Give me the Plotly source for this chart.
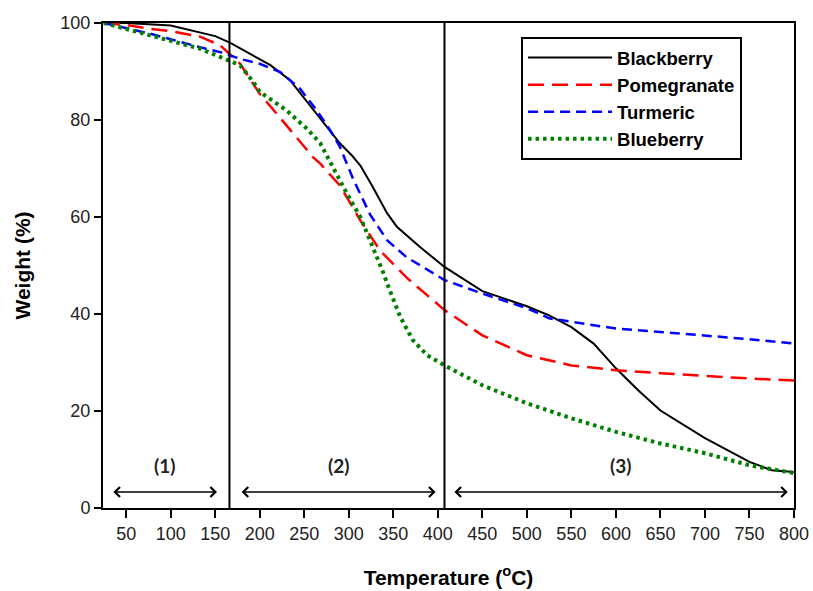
import plotly.graph_objects as go

# ---- data ----
temp_blackberry = [25, 50, 100, 133, 150, 167, 212, 234, 249, 268, 290, 303, 313, 327, 343, 354, 380, 407.5,
                   450, 500, 525, 550, 575, 600, 625, 650, 700, 750, 775, 800]
w_blackberry = [100, 100, 99.5, 98.1, 97.3, 95.9, 91.3, 88.2, 84.7, 80.3, 75.2, 72.8, 70.6, 66.2, 60.8, 58.0, 53.8, 49.7,
                44.7, 41.6, 39.7, 37.3, 33.9, 28.8, 24.3, 20.1, 14.4, 9.5, 7.8, 7.4]

temp_pomegranate = [25, 50, 77, 100, 133, 155.5, 178, 193, 200, 219, 238, 260, 268, 290, 313, 335, 365, 407.5,
                    450, 500, 550, 600, 650, 700, 750, 800]
w_pomegranate = [100, 99.6, 98.8, 98.3, 97.2, 95.4, 91.6, 87.5, 85.4, 81.3, 77.2, 72.3, 71.0, 66.5, 59.3, 53.1, 47.5, 40.8,
                 35.6, 31.5, 29.4, 28.4, 27.8, 27.2, 26.7, 26.3]

temp_turmeric = [25, 50, 77, 133, 155.5, 178, 200, 223, 245, 264, 279, 290, 305, 324, 343, 365, 407.5,
                 450, 500, 525, 550, 600, 650, 700, 750, 800]
w_turmeric = [100, 99.0, 97.8, 95.0, 94.0, 92.6, 91.6, 89.9, 86.5, 82.0, 77.9, 74.5, 67.8, 60.5, 55.2, 51.7, 47.0,
              44.2, 41.2, 39.1, 38.4, 37.0, 36.3, 35.6, 34.8, 33.9]

temp_blueberry = [25, 50, 77, 133, 155.5, 178, 193, 200, 230, 253, 268, 282, 298, 313, 324, 339, 343, 357.6, 372, 388, 407.5,
                  450, 500, 550, 600, 650, 700, 750, 800]
w_blueberry = [100, 98.8, 97.5, 94.7, 93.0, 91.3, 87.8, 85.8, 82.0, 78.2, 75.2, 70.3, 64.8, 60.0, 55.2, 48.4, 46.3, 39.5, 34.6, 31.5, 29.4,
               25.3, 21.6, 18.5, 15.7, 13.3, 11.3, 8.8, 7.2]

stage_bounds = [166, 407.5]
stage_labels = ["(1)", "(2)", "(3)"]
stage_label_x = [92.7, 289, 605]
stage_arrow_start = [34, 178, 417]
stage_arrow_end = [152, 397.5, 793]
arrow_level = 3.3
label_level = 8.8

x_ticks = list(range(50, 801, 50))
y_ticks = [0, 20, 40, 60, 80, 100]

# ---- figure ----
fig = go.Figure()
fig.add_trace(go.Scatter(x=temp_blackberry, y=w_blackberry, mode="lines", name="Blackberry",
                         line=dict(color="black", width=2)))
fig.add_trace(go.Scatter(x=temp_pomegranate, y=w_pomegranate, mode="lines", name="Pomegranate",
                         line=dict(color="#ff0000", width=2.5, dash="16px,8px")))
fig.add_trace(go.Scatter(x=temp_turmeric, y=w_turmeric, mode="lines", name="Turmeric",
                         line=dict(color="#0000ff", width=2.5, dash="10px,6px")))
fig.add_trace(go.Scatter(x=temp_blueberry, y=w_blueberry, mode="lines", name="Blueberry",
                         line=dict(color="#008000", width=4, dash="3.5px,4px")))

for b in stage_bounds:
    fig.add_vline(x=b, line=dict(color="black", width=2))

for lab, lx, a0, a1 in zip(stage_labels, stage_label_x, stage_arrow_start, stage_arrow_end):
    fig.add_annotation(x=a1, y=arrow_level, ax=a0, ay=arrow_level, xref="x", yref="y",
                       axref="x", ayref="y", showarrow=True, arrowhead=4, startarrowhead=4,
                       arrowside="end+start", arrowsize=1.3, startarrowsize=1.3, arrowwidth=1.5,
                       arrowcolor="black", text="")
    fig.add_annotation(x=lx, y=label_level, xref="x", yref="y", text="<b>" + lab + "</b>",
                       showarrow=False, font=dict(family="Lato, Arial", size=19, color="#222"))

fig.update_layout(
    width=813, height=591,
    margin=dict(l=103, r=19, t=23, b=83),
    paper_bgcolor="white", plot_bgcolor="white",
    font=dict(family="Arial, Liberation Sans", color="#222"),
    showlegend=True,
    legend=dict(x=0.605, y=0.971, xanchor="left", yanchor="top",
                bordercolor="black", borderwidth=2, bgcolor="white",
                font=dict(family="Arial, Liberation Sans", size=18.5, color="black", weight="bold"),
                itemwidth=84, tracegroupgap=0, entrywidth=156, entrywidthmode="pixels"),
    xaxis=dict(range=[24, 800], tickvals=x_ticks, ticks="outside", ticklen=8, tickwidth=1.5,
               tickcolor="black", showline=True, linecolor="black", linewidth=2, mirror=True,
               showgrid=False, zeroline=False, tickfont=dict(size=18, color="#222"), automargin=False,
               title=dict(text="<b>Temperature (<sup>o</sup>C)</b>", font=dict(size=21, color="black"),
                          standoff=28)),
    yaxis=dict(range=[0, 100], tickvals=y_ticks, ticks="outside", ticklen=7, tickwidth=1.5,
               tickcolor="black", showline=True, linecolor="black", linewidth=2, mirror=True,
               showgrid=False, zeroline=False, tickfont=dict(size=18, color="#222"), automargin=False,
               title=dict(text="<b>Weight (%)</b>", font=dict(size=21, color="black"), standoff=24)),
)

# remove the default page margin so the 813x591 figure fills the window exactly
fig.write_html("out.html", config={"displayModeBar": False},
               post_script="document.body.style.margin='0';document.body.style.overflow='hidden';")
